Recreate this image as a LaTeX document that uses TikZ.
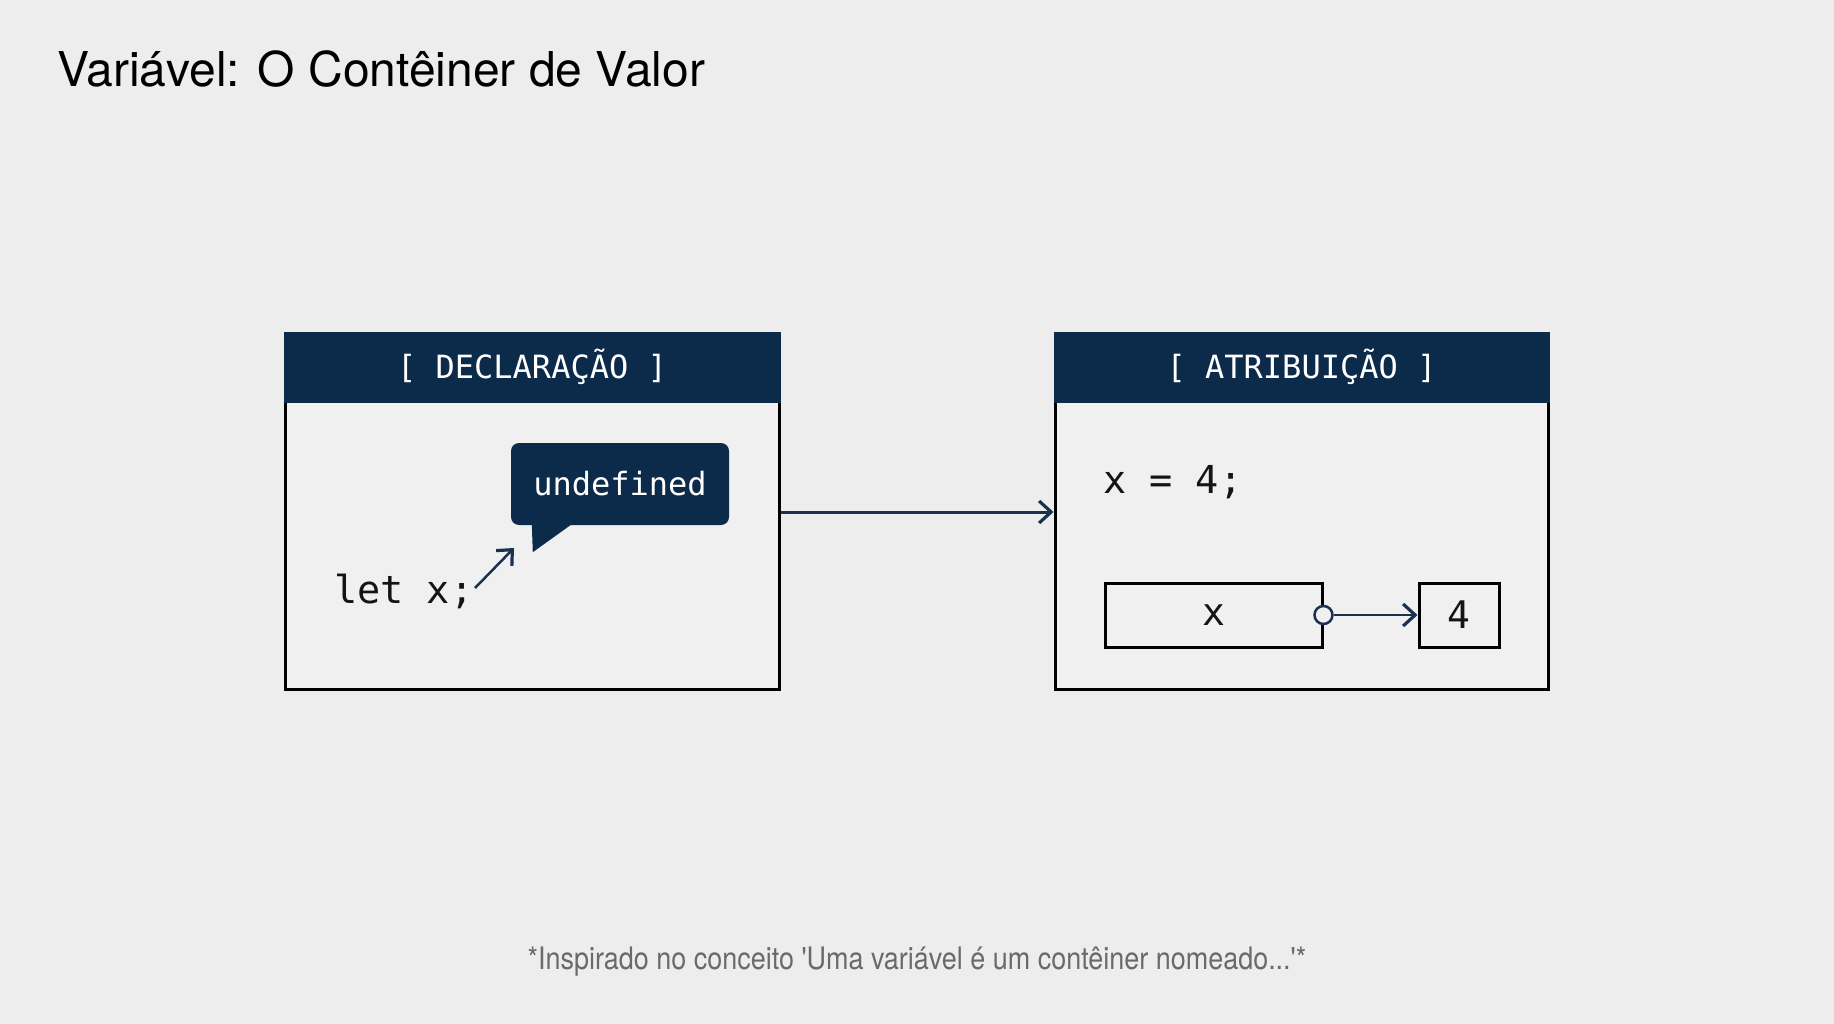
\documentclass[tikz,border=0pt]{standalone}
\usepackage{fontspec}
\setmainfont{TeX Gyre Heros}
\newfontfamily\codefont{DejaVu Sans Mono}
\usepackage{graphicx}
\usetikzlibrary{arrows.meta,calc}
\definecolor{bgc}{HTML}{EDEDED}
\definecolor{panelc}{HTML}{F0F0F0}
\definecolor{navy}{HTML}{0C2A4A}
\definecolor{arrc}{HTML}{1A3150}
\definecolor{notec}{HTML}{6A6A6A}
\definecolor{inkc}{HTML}{141414}
\tikzset{
  panel/.style={draw=black, line width=3pt, fill=panelc, inner sep=0pt, minimum height=355pt},
  headbar/.style={fill=navy, text=white, inner sep=0pt, minimum height=71pt,
    font=\codefont\fontsize{32}{38}\selectfont},
  code/.style={inner sep=0pt, text=inkc, font=\codefont\fontsize{38.5}{46}\selectfont},
  cell/.style={draw=black, line width=3pt, fill=panelc, inner sep=0pt, minimum height=64pt,
    text=inkc, font=\codefont\fontsize{38}{46}\selectfont},
  flow/.style={draw=arrc, line width=3pt, -{Straight Barb[length=12pt,width=22pt,line width=3.2pt]}},
  bubble/.style={fill=navy, rounded corners=8pt, inner sep=0pt, minimum width=218pt,
    minimum height=82pt, text=white, font=\codefont\fontsize{32}{38}\selectfont},
}
\begin{document}
\begin{tikzpicture}[x=1pt,y=-1pt]
\path[use as bounding box, fill=bgc] (0,0) rectangle (1834,1024);

% title
\node[anchor=base west, inner sep=0pt, text=black, font=\fontsize{48}{58}\selectfont] (title) at (57,87) {Variável: O Contêiner de Valor};

% left panel
\node[panel, minimum width=494pt] (decl) at (532,512) {};
\node[headbar, minimum width=497pt, anchor=north] (declh) at ([yshift=1.5pt]decl.north) {[ DECLARAÇÃO ]};

\node[bubble] (undef) at (620,484) {undefined};
\fill[navy] ([xshift=21pt,yshift=1pt]undef.south west) -- ([xshift=61pt,yshift=1pt]undef.south west) -- ([xshift=22pt,yshift=-27pt]undef.south west) -- cycle;

\node[code, anchor=base west] (letx) at (334,603) {let x;};
\coordinate (a1) at (475,588);
\coordinate (a2) at (514,548);
\draw[flow, line width=2.5pt] (a1) -- (a2);

% right panel
\node[panel, minimum width=493pt] (atrib) at (1301.5,512) {};
\node[headbar, minimum width=496pt, anchor=north] (atribh) at ([yshift=1.5pt]atrib.north) {[ ATRIBUIÇÃO ]};

\node[code, anchor=base west] (assign) at (1103,493) {x = 4;};

\node[cell, minimum width=217pt] (xbox) at (1213.5,615) {x};
\node[cell, minimum width=80pt] (vbox) at (1459,615) {4};
\node[circle, draw=arrc, fill=panelc, line width=2.5pt, minimum size=18pt, inner sep=0pt] (pin) at (xbox.east) {};
\draw[flow, line width=2.5pt] (pin) -- (vbox.west);

% main connector
\draw[flow] (decl.east) -- (atrib.west);

% footnote
\node[anchor=base, inner sep=0pt, text=notec] (note) at (917,969) {\scalebox{0.87}[1]{\fontsize{31}{36}\selectfont *Inspirado no conceito \textquotesingle Uma variável é um contêiner nomeado...\textquotesingle*}};
\end{tikzpicture}
\end{document}
